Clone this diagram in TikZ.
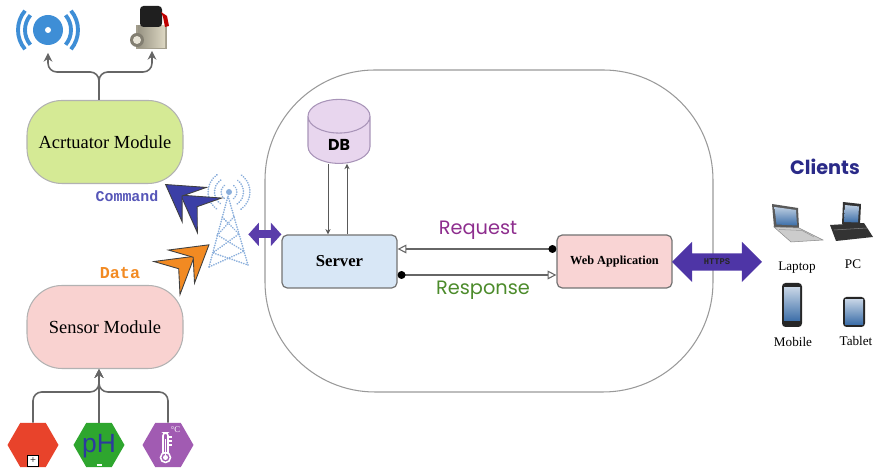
\documentclass[tikz,border=0pt]{standalone}
\usepackage{fontspec}
\setmainfont{Liberation Serif}
\newfontfamily\handfont{Poppins}
\newfontfamily\codefont{Liberation Mono}
\newfontfamily\iconfont{Liberation Sans}
\usepackage{tikz}
\usetikzlibrary{arrows.meta, positioning, shapes.geometric, shapes.arrows, calc}

\definecolor{actfill}{HTML}{D5EA95}
\definecolor{sensfill}{HTML}{F9D2D0}
\definecolor{srvfill}{HTML}{D8E7F6}
\definecolor{webfill}{HTML}{F9D4D4}
\definecolor{dbfill}{HTML}{E8D6EE}
\definecolor{dbedge}{HTML}{A894B8}
\definecolor{linkpurple}{HTML}{5A3DAA}
\definecolor{httpspurple}{HTML}{4E35A6}
\definecolor{cmdblue}{HTML}{3B3FA6}
\definecolor{cmdtext}{HTML}{5656B8}
\definecolor{dataorange}{HTML}{F28A22}
\definecolor{reqpurple}{HTML}{8E2E8E}
\definecolor{resgreen}{HTML}{4C8B2B}
\definecolor{clientblue}{HTML}{2A2A88}
\definecolor{spkblue}{HTML}{3E8ED6}
\definecolor{towerblue}{HTML}{8AAEDB}
\definecolor{hexred}{HTML}{E8432B}
\definecolor{hexgreen}{HTML}{2EA62E}
\definecolor{hexpurple}{HTML}{A15BB2}
\definecolor{phblue}{HTML}{2C3A9E}
\definecolor{screenblue}{HTML}{3C6EA8}
\definecolor{brass}{HTML}{D9D3BC}

\begin{document}
\begin{tikzpicture}[
  every node/.style={font=\small},
  module/.style   = {rectangle, draw=black!30, rounded corners=0.7cm, minimum width=3.12cm, minimum height=1.66cm, line width=0.6pt, font=\fontsize{10.5}{12}\selectfont},
  box/.style      = {rectangle, draw=black!55, rounded corners=3pt, minimum width=2.3cm, minimum height=1.06cm, line width=0.7pt},
  zone/.style     = {draw=black!40, rounded corners=2.2cm, minimum width=8.96cm, minimum height=6.44cm, line width=0.6pt},
  sensor/.style   = {regular polygon, regular polygon sides=6, minimum size=1.02cm, inner sep=0pt},
  icon/.style     = {inner sep=0pt, minimum width=0.9cm, minimum height=0.9cm},
  devlabel/.style = {font=\fontsize{7.5}{9}\selectfont},
  feed/.style     = {line width=0.9pt, draw=black!60, rounded corners=5pt},
  feedtip/.style  = {feed, -{Stealth[length=5pt,width=5pt]}},
  dbline/.style   = {line width=0.5pt, draw=black!65, -{Stealth[length=3pt,width=3pt]}},
  msg/.style      = {line width=0.6pt, draw=black!60, {Circle[length=4.5pt,color=black]}-{Triangle[open,length=5pt,width=5pt]}},
  link/.style     = {line width=4.5pt, draw=linkpurple, {Triangle[length=6pt,width=13pt]}-{Triangle[length=6pt,width=13pt]}},
  fletch/.style   = {line width=0.5pt, draw=black!75, shorten <=0.6cm,
                     -{Stealth[length=7.5mm,width=9mm,inset=3.2mm,fill=#1,sep=-3.8mm] Stealth[length=7.5mm,width=9mm,inset=3.2mm,fill=#1]}},
  tower/.style    = {draw=towerblue, line width=1pt, line cap=round, dash pattern=on 0.1pt off 1.3pt},
]
\useasboundingbox (0,0) rectangle (17.48,9.36);

%% back-end zone
\node[zone] (backend) at (9.78,4.74) {};

%% actuator side
\node[module, fill=actfill] (act)  at (2.1,6.52) {Acrtuator Module};
\node[icon] (spk)   at (0.96,8.76) {};
\node[icon] (valve) at (3.04,8.8) {};
\coordinate (fork) at (1.98,7.92);

% buzzer
\fill[spkblue] (spk) circle (0.3);
\fill[white] (spk) circle (0.06);
\foreach \r in {0.46,0.6} {
  \draw[spkblue, line width=2.2pt] ([shift={(140:\r)}]spk.center) arc (140:220:\r);
  \draw[spkblue, line width=2.2pt] ([shift={(-40:\r)}]spk.center) arc (-40:40:\r);
}
% valve
\begin{scope}[shift={(valve.center)}]
  \fill[brass!75!black] (-0.32,-0.42) rectangle (0.3,0.06);
  \shade[left color=brass!70!black, right color=brass!90!white] (-0.28,-0.4) rectangle (0.26,0.04);
  \fill[brass!60!black] (-0.3,-0.24) circle (0.14);
  \fill[brass!60!white] (-0.3,-0.24) circle (0.08);
  \fill[black!88, rounded corners=2pt] (-0.24,0.02) rectangle (0.2,0.44);
  \fill[red!75!black] (0.18,0.32) -- (0.3,0.24) -- (0.34,0.04) -- (0.26,0.02) -- (0.22,0.22) -- cycle;
\end{scope}

\draw[feedtip] (act.north -| fork) -- (fork) -| (spk.south);
\draw[feedtip] (act.north -| fork) -- (fork) -| (valve.south);

%% sensor side
\node[module, fill=sensfill] (sens) at (2.1,2.82) {Sensor Module};
\node[sensor, fill=hexred]    (hexR) at (0.66,0.46) {};
\node[sensor, fill=hexgreen]  (hexG) at (1.98,0.46) {};
\node[sensor, fill=hexpurple] (hexP) at (3.36,0.46) {};
\coordinate (merge) at (1.98,1.52);

% plug, pH and thermometer marks
\node[draw=black, fill=white, line width=0.6pt, minimum size=0.22cm, inner sep=0pt,
      font=\fontsize{6}{6}\selectfont] (plug) at ([yshift=-0.32cm]hexR.center) {+};
\node[text=phblue, font=\iconfont\fontsize{15}{15}\selectfont] (ph) at ([yshift=-0.02cm]hexG.center) {pH};
\draw[white, line width=0.8pt] ([shift={(-0.05,-0.4)}]hexG.center) -- ++(0.1,0);
\begin{scope}[shift={(hexP.center)}]
  \draw[white, line width=0.9pt, rounded corners=1.5pt] (-0.1,-0.16) -- (-0.1,0.24) -- (0.0,0.24) -- (0.0,-0.16);
  \draw[white, line width=0.9pt] (-0.05,-0.25) circle (0.1);
  \fill[white] (-0.05,-0.25) circle (0.05);
  \fill[white] (-0.065,-0.22) rectangle (-0.035,0.12);
  \foreach \y in {0.16,0.08,0.0} \draw[white, line width=0.6pt] (0.0,\y) -- (0.07,\y);
  \node[text=white, inner sep=0pt, font=\fontsize{5}{5}\selectfont] (degc) at (0.15,0.3) {°C};
\end{scope}

\draw[feedtip] (hexR.north) |- (merge) -- (merge |- sens.south);
\draw[feedtip] (hexG.north) -- (merge |- sens.south);
\draw[feedtip] (hexP.north) |- (merge) -- (merge |- sens.south);

%% radio tower
\node[minimum width=0.76cm, minimum height=1.5cm, inner sep=0pt] (tower) at (4.58,4.78) {};
\coordinate (apex) at (4.56,5.44);
\coordinate (bl)   at (4.18,4.02);
\coordinate (br)   at (4.96,4.06);
\coordinate (ball) at (4.58,5.52);
\draw[tower] (bl) -- (apex) -- (br);
\draw[tower] ($(apex)!.3!(bl)$) -- ($(apex)!.55!(br)$) -- ($(apex)!.8!(bl)$) -- (br);
\draw[tower] ($(apex)!.3!(br)$) -- ($(apex)!.55!(bl)$) -- ($(apex)!.8!(br)$) -- (bl);
\fill[towerblue] (ball) circle (0.06);
\foreach \r in {0.16,0.29,0.42} {
  \draw[tower] ([shift={(125:\r)}]ball) arc (125:235:\r);
  \draw[tower] ([shift={(-55:\r)}]ball) arc (-55:55:\r);
}

%% command / data
\draw[fletch=cmdblue]    (tower) -- (act);
\draw[fletch=dataorange] (sens)  -- (tower);
\node[text=cmdtext, font=\codefont\bfseries\fontsize{8.5}{9}\selectfont]     (cmd)  at (2.54,5.44) {Command};
\node[text=dataorange, font=\codefont\bfseries\fontsize{9.5}{10}\selectfont] (data) at (2.4,3.9)  {Data};

%% server side
\node[cylinder, shape border rotate=90, aspect=1, minimum width=1.24cm, minimum height=1.2cm,
      draw=dbedge, fill=dbfill, line width=0.6pt, font=\handfont\bfseries\small] (db) at (6.78,6.46) {DB};
\node[box, fill=srvfill, font=\fontsize{9.5}{11}\selectfont\bfseries] (srv) at (6.79,4.13) {Server};
\node[box, fill=webfill, font=\fontsize{7}{8}\selectfont\bfseries]  (web) at (12.29,4.13) {Web Application};

\coordinate (dbdn) at ([xshift=-0.22cm]db.south);
\coordinate (dbup) at ([xshift=0.16cm]db.south);
\draw[dbline] (dbdn) -- (dbdn |- srv.north);
\draw[dbline] (dbup |- srv.north) -- (dbup);

\coordinate (reqW) at ([yshift=0.25cm]web.west);
\coordinate (resE) at ([yshift=-0.27cm]srv.east);
\draw[msg] (reqW) -- (reqW -| srv.east);
\draw[msg] (resE) -- (resE -| web.west);
\node[text=reqpurple, font=\handfont\fontsize{11}{12}\selectfont] (req) at (9.56,4.76) {Request};
\node[text=resgreen,  font=\handfont\fontsize{11}{12}\selectfont] (res) at (9.66,3.56) {Response};

\draw[link] (tower.east |- srv.north west) -- (srv.north west);

\node[double arrow, double arrow head extend=0.23cm, minimum height=1.8cm, inner xsep=0pt, inner ysep=3pt,
      fill=httpspurple, text=black!85, font=\codefont\bfseries\fontsize{5}{5}\selectfont] (https) at (14.34,4.12) {HTTPS};

%% clients
\node[text=clientblue, font=\handfont\bfseries\fontsize{11}{13}\selectfont] (clients) at (16.5,6.02) {Clients};

\node[icon, minimum width=1cm, minimum height=0.8cm] (lap) at (15.94,4.9) {};
\node[icon, minimum width=0.8cm, minimum height=0.8cm] (pc) at (17.06,4.92) {};
\node[icon, minimum width=0.4cm, minimum height=0.88cm] (mob) at (15.84,3.26) {};
\node[icon, minimum width=0.44cm, minimum height=0.6cm] (tab) at (17.08,3.12) {};

\begin{scope}[shift={(lap.center)}]
  \fill[black!65] (-0.5,0.38) -- (0.02,0.3) -- (0.04,-0.1) -- (-0.46,-0.08) -- cycle;
  \shade[top color=screenblue!35, bottom color=screenblue] (-0.45,0.32) -- (-0.02,0.26) -- (0,-0.05) -- (-0.41,-0.03) -- cycle;
  \filldraw[fill=black!20, draw=black!45, line width=0.3pt] (-0.46,-0.08) -- (0.04,-0.1) -- (0.52,-0.34) -- (-0.12,-0.38) -- cycle;
  \draw[black!40, line width=0.3pt] (-0.36,-0.13) -- (0.1,-0.15) -- (0.34,-0.28);
\end{scope}
\begin{scope}[shift={(pc.center)}]
  \fill[black!80] (-0.2,0.4) -- (0.16,0.36) -- (0.14,-0.06) -- (-0.22,-0.04) -- cycle;
  \shade[top color=screenblue!35, bottom color=screenblue] (-0.16,0.34) -- (0.12,0.31) -- (0.1,-0.01) -- (-0.18,0.0) -- cycle;
  \fill[black!80] (-0.46,-0.06) -- (0.22,-0.02) -- (0.4,-0.3) -- (-0.34,-0.38) -- cycle;
  \draw[black!50, line width=0.3pt] (-0.38,-0.16) -- (0.28,-0.12);
\end{scope}
\begin{scope}[shift={(mob.center)}]
  \fill[black!85, rounded corners=2pt] (-0.2,-0.44) rectangle (0.2,0.44);
  \shade[top color=screenblue!30, bottom color=screenblue] (-0.16,-0.32) rectangle (0.16,0.34);
\end{scope}
\begin{scope}[shift={(tab.center)}]
  \fill[black!85, rounded corners=2pt] (-0.22,-0.3) rectangle (0.22,0.3);
  \shade[top color=screenblue!30, bottom color=screenblue] (-0.18,-0.25) rectangle (0.18,0.25);
\end{scope}

\node[devlabel] (lapT) at (15.94,4.0)  {Laptop};
\node[devlabel] (pcT)  at (17.06,4.08) {PC};
\node[devlabel] (mobT) at (15.86,2.52) {Mobile};
\node[devlabel] (tabT) at (17.12,2.54) {Tablet};
\end{tikzpicture}
\end{document}
